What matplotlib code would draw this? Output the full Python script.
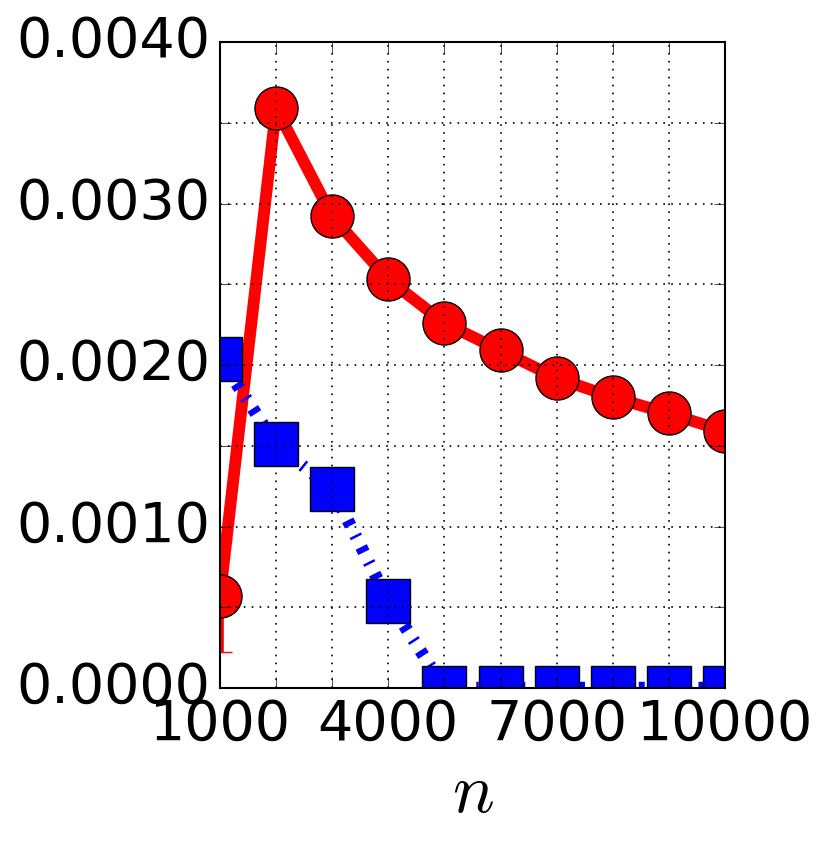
import numpy as np
import matplotlib
matplotlib.use('Agg')
import matplotlib.pyplot as plt

plt.style.use('classic')
plt.rcParams['mathtext.fontset'] = 'cm'
plt.rcParams['lines.scale_dashes'] = False
plt.rcParams['axes.linewidth'] = 1.5

#%% Data
n_values = [1000, 2000, 3000, 4000, 5000, 6000, 7000, 8000, 9000, 10000]
red_values = [0.00057, 0.00359, 0.00292, 0.00253, 0.00226, 0.00209, 0.00192, 0.00180, 0.00170, 0.00159]
red_err = [0.00035, 0, 0, 0, 0, 0, 0, 0, 0, 0]
blue_values = [0.00204, 0.00151, 0.00123, 0.00054, 0.0, 0.0, 0.0, 0.0, 0.0, 0.0]

x_ticks = [1000, 2000, 3000, 4000, 5000, 6000, 7000, 8000, 9000, 10000]
x_labels = ['1000', '', '', '4000', '', '', '7000', '', '', '10000']
y_ticks = [0.0, 0.0005, 0.0010, 0.0015, 0.0020, 0.0025, 0.0030, 0.0035, 0.0040]
y_labels = ['0.0000', '', '0.0010', '', '0.0020', '', '0.0030', '', '0.0040']

#%% Figure
fig = plt.figure(figsize=(8.31, 8.49), dpi=100, facecolor='white')
ax = fig.add_axes([0.2647, 0.1896, 0.6077, 0.7609])

# error bar sits under the red curve
ax.errorbar(n_values, red_values, yerr=red_err, fmt='none', ecolor='red',
            elinewidth=5.5, capsize=8.5, capthick=1)
ax.plot(n_values, red_values, '-', color='red', lw=8.5, marker='o',
        markersize=31, markerfacecolor='red', markeredgecolor='black', markeredgewidth=1)
# very thick dash-dot: dashes are shorter than the line is wide
ax.plot(n_values, blue_values, color='blue', lw=9, linestyle=(0, (4.3, 7.7, 1.8, 7.7)),
        marker='s', markersize=31, markerfacecolor='blue', markeredgecolor='black',
        markeredgewidth=1)

ax.set_xlim(1000, 10000)
ax.set_ylim(0, 0.004)
ax.set_xticks(x_ticks)
ax.set_xticklabels(x_labels)
ax.set_yticks(y_ticks)
ax.set_yticklabels(y_labels)
ax.tick_params(labelsize=40, length=8, pad=7)
ax.grid(True, linestyle=(0, (1.2, 4.5)), color='black', lw=1.2)
ax.set_xlabel('$n$', fontsize=50)

fig.savefig('out.png', dpi=100, facecolor='white')
